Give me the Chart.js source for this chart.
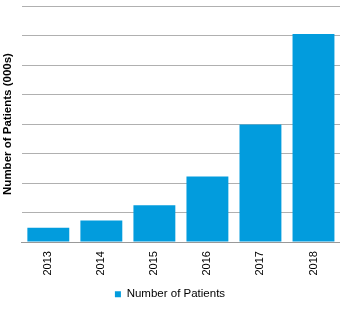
<!DOCTYPE html>
<html>
<head>
<meta charset="utf-8">
<script src="https://cdn.jsdelivr.net/npm/chart.js@4/dist/chart.umd.min.js"></script>
<style>
  html, body { margin: 0; padding: 0; background: #fff; }
  #wrap { width: 340px; height: 310px; }
</style>
</head>
<body>
<div id="wrap"><canvas id="chart"></canvas></div>
<script>
const years = ['2013', '2014', '2015', '2016', '2017', '2018'];
const patients = [4.8, 7.3, 12.5, 22.2, 39.8, 70.5];
const yMax = 80;
const yStep = 10;

const ctx = document.getElementById('chart').getContext('2d');

new Chart(ctx, {
  type: 'bar',
  data: {
    labels: years,
    datasets: [
      {
        label: 'Number of Patients',
        data: patients,
        backgroundColor: '#029cdd',
        borderWidth: 0,
        categoryPercentage: 0.79,
        barPercentage: 1,
      },
    ],
  },
  options: {
    responsive: true,
    maintainAspectRatio: false,
    animation: false,
    layout: { padding: { top: 6, right: 0, bottom: 0, left: 0 } },
    plugins: {
      legend: {
        position: 'bottom',
        labels: {
          boxWidth: 6,
          boxHeight: 6,
          padding: 4,
          color: '#000',
          font: { family: 'Liberation Sans', size: 11.5 },
        },
      },
      tooltip: { enabled: false },
    },
    scales: {
      x: {
        grid: { display: false, drawTicks: false },
        border: { display: true, color: '#999', width: 1 },
        ticks: {
          color: '#000',
          minRotation: 90,
          maxRotation: 90,
          padding: 9,
          font: { family: 'Liberation Sans', size: 11 },
        },
      },
      y: {
        min: 0,
        max: yMax,
        grid: { color: '#b0b0b0', lineWidth: 1, drawTicks: false },
        border: { display: false },
        ticks: { display: false, stepSize: yStep },
        title: {
          display: true,
          text: 'Number of Patients (000s)',
          color: '#000',
          padding: { top: 1, bottom: 7 },
          font: { family: 'Liberation Sans', size: 11.5, weight: 'bold' },
        },
      },
    },
  },
});
</script>
</body>
</html>
